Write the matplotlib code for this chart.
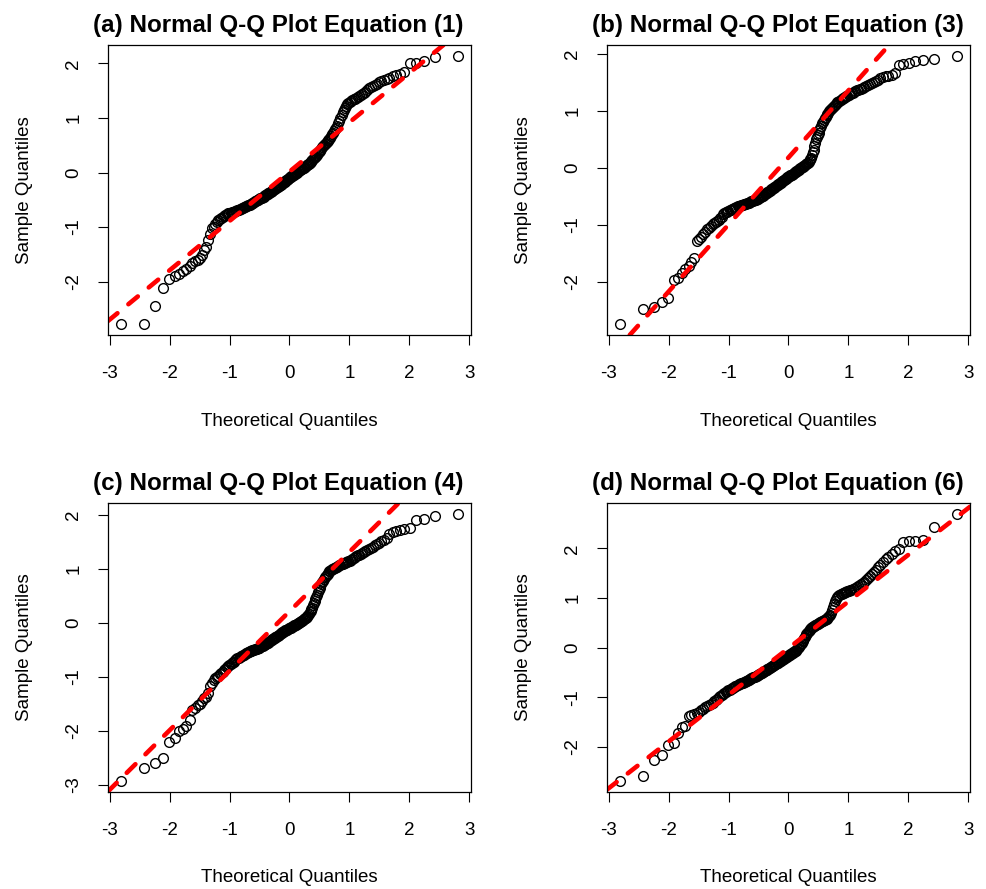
import numpy as np
import matplotlib
matplotlib.use("Agg")
import matplotlib.pyplot as plt
from matplotlib import font_manager as fm
from statistics import NormalDist

# sorted sample quantiles (n = 200)
eq1 = [-2.78, -2.78, -2.45, -2.11, -1.95, -1.89, -1.86, -1.80, -1.77, -1.72,
       -1.66, -1.62, -1.60, -1.57, -1.52, -1.42, -1.36, -1.24, -1.12, -1.02,
       -0.99, -0.95, -0.90, -0.87, -0.85, -0.83, -0.81, -0.79, -0.78, -0.76,
       -0.75, -0.74, -0.74, -0.73, -0.72, -0.72, -0.71, -0.70, -0.69, -0.68,
       -0.67, -0.66, -0.65, -0.65, -0.64, -0.63, -0.62, -0.61, -0.60, -0.60,
       -0.59, -0.58, -0.57, -0.56, -0.55, -0.54, -0.53, -0.52, -0.51, -0.50,
       -0.49, -0.48, -0.47, -0.47, -0.46, -0.45, -0.44, -0.43, -0.42, -0.41,
       -0.40, -0.39, -0.38, -0.37, -0.36, -0.35, -0.34, -0.33, -0.32, -0.31,
       -0.30, -0.29, -0.28, -0.27, -0.26, -0.25, -0.24, -0.23, -0.22, -0.21,
       -0.20, -0.19, -0.18, -0.17, -0.15, -0.14, -0.13, -0.12, -0.11, -0.10,
       -0.09, -0.08, -0.07, -0.06, -0.05, -0.04, -0.03, -0.02, -0.01, 0.00,
       0.01, 0.02, 0.03, 0.04, 0.05, 0.06, 0.07, 0.08, 0.09, 0.10,
       0.11, 0.12, 0.13, 0.14, 0.15, 0.16, 0.18, 0.19, 0.21, 0.23,
       0.24, 0.26, 0.28, 0.29, 0.31, 0.33, 0.35, 0.37, 0.39, 0.42,
       0.44, 0.46, 0.48, 0.50, 0.52, 0.54, 0.56, 0.58, 0.60, 0.62,
       0.64, 0.67, 0.70, 0.73, 0.76, 0.79, 0.82, 0.86, 0.90, 0.95,
       1.00, 1.06, 1.11, 1.15, 1.19, 1.22, 1.25, 1.27, 1.29, 1.31,
       1.32, 1.34, 1.35, 1.36, 1.38, 1.40, 1.42, 1.44, 1.46, 1.48,
       1.51, 1.54, 1.57, 1.59, 1.61, 1.63, 1.65, 1.67, 1.69, 1.71,
       1.74, 1.76, 1.78, 1.81, 1.84, 2.00, 2.01, 2.05, 2.12, 2.14]

eq3 = [-2.75, -2.48, -2.44, -2.35, -2.29, -1.97, -1.94, -1.85, -1.78, -1.72,
       -1.66, -1.59, -1.29, -1.26, -1.22, -1.16, -1.12, -1.08, -1.05, -1.02,
       -0.99, -0.97, -0.95, -0.93, -0.91, -0.89, -0.86, -0.82, -0.80, -0.78,
       -0.77, -0.76, -0.75, -0.74, -0.73, -0.72, -0.71, -0.70, -0.69, -0.68,
       -0.67, -0.67, -0.66, -0.65, -0.65, -0.64, -0.63, -0.63, -0.62, -0.62,
       -0.61, -0.60, -0.60, -0.59, -0.59, -0.58, -0.57, -0.57, -0.56, -0.55,
       -0.54, -0.53, -0.53, -0.52, -0.51, -0.50, -0.49, -0.48, -0.47, -0.46,
       -0.45, -0.44, -0.43, -0.42, -0.41, -0.40, -0.39, -0.38, -0.37, -0.36,
       -0.35, -0.34, -0.33, -0.32, -0.31, -0.30, -0.29, -0.28, -0.27, -0.26,
       -0.25, -0.24, -0.23, -0.22, -0.21, -0.20, -0.19, -0.18, -0.17, -0.16,
       -0.15, -0.14, -0.13, -0.12, -0.12, -0.11, -0.10, -0.09, -0.08, -0.07,
       -0.06, -0.05, -0.04, -0.03, -0.02, -0.01, 0.00, 0.01, 0.02, 0.03,
       0.04, 0.05, 0.06, 0.07, 0.08, 0.09, 0.11, 0.13, 0.15, 0.17,
       0.22, 0.27, 0.32, 0.38, 0.44, 0.50, 0.54, 0.58, 0.62, 0.66,
       0.70, 0.74, 0.78, 0.81, 0.84, 0.87, 0.90, 0.92, 0.95, 0.97,
       0.99, 1.01, 1.03, 1.05, 1.07, 1.09, 1.11, 1.13, 1.15, 1.16,
       1.18, 1.19, 1.21, 1.22, 1.23, 1.24, 1.26, 1.27, 1.28, 1.30,
       1.31, 1.32, 1.34, 1.35, 1.36, 1.37, 1.38, 1.39, 1.41, 1.42,
       1.44, 1.45, 1.47, 1.49, 1.51, 1.53, 1.55, 1.57, 1.59, 1.61,
       1.62, 1.64, 1.66, 1.80, 1.83, 1.84, 1.88, 1.90, 1.92, 1.97]

eq4 = [-2.94, -2.69, -2.61, -2.51, -2.22, -2.14, -2.01, -1.97, -1.92, -1.81,
       -1.62, -1.58, -1.53, -1.50, -1.45, -1.40, -1.37, -1.30, -1.17, -1.12,
       -1.07, -1.03, -1.00, -0.98, -0.96, -0.94, -0.92, -0.88, -0.85, -0.83,
       -0.81, -0.79, -0.77, -0.75, -0.73, -0.72, -0.70, -0.68, -0.66, -0.65,
       -0.63, -0.62, -0.61, -0.60, -0.59, -0.58, -0.57, -0.56, -0.55, -0.54,
       -0.53, -0.53, -0.52, -0.51, -0.50, -0.50, -0.49, -0.48, -0.48, -0.47,
       -0.46, -0.46, -0.45, -0.44, -0.44, -0.43, -0.42, -0.41, -0.40, -0.39,
       -0.38, -0.37, -0.36, -0.35, -0.34, -0.33, -0.32, -0.31, -0.30, -0.29,
       -0.28, -0.27, -0.26, -0.25, -0.24, -0.23, -0.22, -0.21, -0.20, -0.19,
       -0.18, -0.17, -0.16, -0.15, -0.14, -0.13, -0.13, -0.12, -0.11, -0.10,
       -0.10, -0.09, -0.08, -0.08, -0.07, -0.06, -0.05, -0.05, -0.04, -0.03,
       -0.02, -0.01, 0.00, 0.01, 0.02, 0.03, 0.04, 0.05, 0.06, 0.07,
       0.08, 0.09, 0.10, 0.12, 0.14, 0.16, 0.19, 0.22, 0.25, 0.28,
       0.32, 0.36, 0.40, 0.44, 0.48, 0.52, 0.56, 0.60, 0.64, 0.68,
       0.72, 0.75, 0.78, 0.81, 0.84, 0.86, 0.88, 0.91, 0.93, 0.95,
       0.96, 0.97, 0.99, 1.00, 1.01, 1.02, 1.03, 1.04, 1.05, 1.06,
       1.07, 1.08, 1.09, 1.10, 1.11, 1.12, 1.13, 1.14, 1.15, 1.17,
       1.18, 1.20, 1.21, 1.23, 1.25, 1.26, 1.28, 1.29, 1.31, 1.33,
       1.35, 1.37, 1.39, 1.41, 1.44, 1.46, 1.48, 1.51, 1.54, 1.57,
       1.64, 1.68, 1.70, 1.72, 1.74, 1.76, 1.91, 1.92, 1.97, 2.02]

eq6 = [-2.69, -2.58, -2.27, -2.17, -1.95, -1.92, -1.71, -1.60, -1.58, -1.38,
       -1.36, -1.34, -1.31, -1.29, -1.26, -1.23, -1.20, -1.17, -1.15, -1.13,
       -1.11, -1.08, -1.05, -1.03, -1.00, -0.98, -0.96, -0.94, -0.92, -0.90,
       -0.88, -0.86, -0.85, -0.83, -0.82, -0.81, -0.79, -0.78, -0.77, -0.76,
       -0.74, -0.73, -0.72, -0.71, -0.70, -0.69, -0.68, -0.67, -0.66, -0.65,
       -0.64, -0.63, -0.62, -0.61, -0.60, -0.59, -0.58, -0.58, -0.57, -0.56,
       -0.55, -0.54, -0.53, -0.52, -0.51, -0.50, -0.49, -0.48, -0.47, -0.46,
       -0.45, -0.44, -0.43, -0.42, -0.41, -0.40, -0.39, -0.38, -0.37, -0.36,
       -0.35, -0.34, -0.33, -0.32, -0.31, -0.30, -0.29, -0.28, -0.27, -0.26,
       -0.25, -0.24, -0.23, -0.22, -0.21, -0.20, -0.19, -0.18, -0.17, -0.16,
       -0.15, -0.14, -0.13, -0.12, -0.11, -0.10, -0.09, -0.08, -0.07, -0.06,
       -0.04, -0.02, 0.00, 0.02, 0.04, 0.06, 0.08, 0.10, 0.13, 0.16,
       0.19, 0.22, 0.25, 0.28, 0.30, 0.32, 0.34, 0.36, 0.38, 0.40,
       0.41, 0.42, 0.43, 0.44, 0.45, 0.46, 0.47, 0.48, 0.49, 0.50,
       0.51, 0.52, 0.53, 0.54, 0.55, 0.56, 0.57, 0.58, 0.60, 0.62,
       0.64, 0.66, 0.70, 0.76, 0.82, 0.88, 0.94, 0.98, 1.02, 1.05,
       1.07, 1.08, 1.09, 1.10, 1.11, 1.12, 1.13, 1.14, 1.15, 1.16,
       1.17, 1.18, 1.19, 1.20, 1.22, 1.24, 1.26, 1.28, 1.30, 1.32,
       1.36, 1.40, 1.44, 1.48, 1.52, 1.57, 1.62, 1.67, 1.72, 1.78,
       1.83, 1.88, 1.94, 1.98, 2.13, 2.16, 2.16, 2.17, 2.44, 2.70]

titles = ["(a) Normal Q-Q Plot Equation (1)", "(b) Normal Q-Q Plot Equation (3)",
          "(c) Normal Q-Q Plot Equation (4)", "(d) Normal Q-Q Plot Equation (6)"]
samples = [eq1, eq3, eq4, eq6]

plt.rcParams['font.family'] = ['Liberation Sans', 'DejaVu Sans']
plt.rcParams['lines.scale_dashes'] = False
plt.rcParams['axes.unicode_minus'] = False

# pick the regular-width bold face (not the Narrow one)
bold_file = None
for f in fm.fontManager.ttflist:
    if f.name == 'Liberation Sans' and f.weight in (700, 'bold') and 'Narrow' not in f.fname:
        bold_file = f.fname
        break
if bold_file:
    title_font = fm.FontProperties(fname=bold_file, size=17.4)
else:
    title_font = fm.FontProperties(family='Liberation Sans', weight='bold', size=17.4)

W, H = 987, 889
fig = plt.figure(figsize=(W / 100, H / 100), dpi=100)

# axes boxes in pixels: left, top, right, bottom
boxes = [(108, 45, 471, 335), (607, 45, 970, 335),
         (108, 503, 471, 792), (607, 503, 970, 792)]

nd = NormalDist()
for k in range(4):
    y = np.sort(np.array(samples[k]))
    n = len(y)
    x = np.array([nd.inv_cdf((i - 0.5) / n) for i in range(1, n + 1)])
    l, t, r, b = boxes[k]
    ax = fig.add_axes([l / W, 1 - b / H, (r - l) / W, (b - t) / H])
    ax.plot(x, y, 'o', mfc='none', mec='black', ms=7.0, mew=1.0)
    # qqline through the quartiles
    qy = np.quantile(y, [0.25, 0.75])
    qx = np.array([nd.inv_cdf(0.25), nd.inv_cdf(0.75)])
    slope = (qy[1] - qy[0]) / (qx[1] - qx[0])
    icpt = qy[0] - slope * qx[0]
    ax.axline((0, icpt), slope=slope, color='#ff0000', lw=3.3,
              dashes=(8.8, 10.2), dash_capstyle='round')
    xr = x.max() - x.min()
    yr = y.max() - y.min()
    ax.set_xlim(x.min() - 0.04 * xr, x.max() + 0.04 * xr)
    ax.set_ylim(y.min() - 0.04 * yr, y.max() + 0.04 * yr)
    ax.set_xticks(range(-3, 4))
    lo, hi = ax.get_ylim()
    ax.set_yticks([v for v in range(-3, 4) if lo <= v <= hi])
    ax.tick_params(length=7.5, width=0.8, labelsize=13.5, color='black')
    ax.tick_params(axis='x', pad=14)
    ax.tick_params(axis='y', pad=17)
    for lab in ax.get_yticklabels():
        lab.set_rotation(90)
        lab.set_ha('center')
        lab.set_va('center')
    for s in ax.spines.values():
        s.set_linewidth(0.9)
    cx = (l + r) / 2
    cy = (t + b) / 2
    fig.text((cx - 11) / W, 1 - (t - 13) / H, titles[k], fontproperties=title_font,
             ha='center', va='baseline')
    fig.text(cx / W, 1 - (b + 86) / H, 'Theoretical Quantiles', fontsize=13.5,
             ha='center', va='center')
    fig.text((l - 83) / W, 1 - cy / H, 'Sample Quantiles', fontsize=13.5,
             ha='center', va='center', rotation=90)

fig.savefig('out.png', dpi=100)
